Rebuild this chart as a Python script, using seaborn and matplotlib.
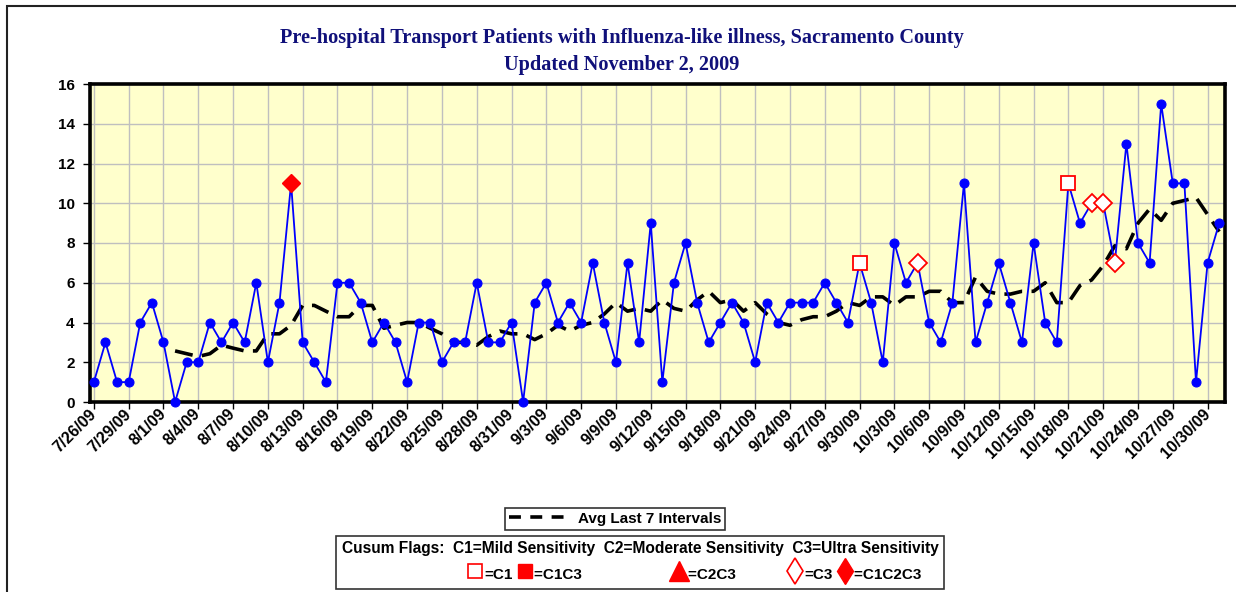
import numpy as np
import pandas as pd
import seaborn as sns
import matplotlib.pyplot as plt
from matplotlib.lines import Line2D
from matplotlib.patches import Rectangle

# Daily ILI transport counts, 7/26/09 .. 10/31/09
counts = [1, 3, 1, 1, 4, 5, 3, 0, 2, 2,
          4, 3, 4, 3, 6, 2, 5, 11, 3, 2,
          1, 6, 6, 5, 3, 4, 3, 1, 4, 4,
          2, 3, 3, 6, 3, 3, 4, 0, 5, 6,
          4, 5, 4, 7, 4, 2, 7, 3, 9, 1,
          6, 8, 5, 3, 4, 5, 4, 2, 5, 4,
          5, 5, 5, 6, 5, 4, 7, 5, 2, 8,
          6, 7, 4, 3, 5, 11, 3, 5, 7, 5,
          3, 8, 4, 3, 11, 9, 10, 10, 7, 13,
          8, 7, 15, 11, 11, 1, 7, 9]

# Avg last 7 intervals (dashed line)
avg7 = [np.nan] * 7 + [
    2.57, 2.43, 2.29, 2.43, 2.86, 2.71, 2.57, 2.57, 3.43, 3.43,
    3.86, 4.86, 4.86, 4.57, 4.29, 4.29, 4.86, 4.86, 3.71, 3.86,
    4.00, 4.00, 3.71, 3.43, 3.00, 3.00, 2.86, 3.29, 3.57, 3.43,
    3.43, 3.14, 3.43, 3.86, 3.57, 3.86, 4.00, 4.43, 5.00, 4.57,
    4.71, 4.57, 5.14, 4.71, 4.57, 5.14, 5.57, 5.00, 5.14, 4.57,
    5.00, 4.43, 4.00, 3.86, 4.14, 4.29, 4.29, 4.57, 5.00, 4.86,
    5.29, 5.29, 4.86, 5.29, 5.29, 5.57, 5.57, 5.00, 5.00, 6.29,
    5.57, 5.43, 5.43, 5.57, 5.57, 6.00, 5.00, 5.00, 5.86, 6.14,
    6.86, 7.86, 7.71, 9.00, 9.71, 9.14, 10.00, 10.14, 10.29, 9.43,
    8.57]

# Cusum flag days
c1_days = ['2009-09-30', '2009-10-18']
c3_days = ['2009-10-05', '2009-10-20', '2009-10-21', '2009-10-22']
c1c2c3_days = ['2009-08-12']

tick_labels = ['7/26/09', '7/29/09', '8/1/09', '8/4/09', '8/7/09', '8/10/09',
               '8/13/09', '8/16/09', '8/19/09', '8/22/09', '8/25/09', '8/28/09',
               '8/31/09', '9/3/09', '9/6/09', '9/9/09', '9/12/09', '9/15/09',
               '9/18/09', '9/21/09', '9/24/09', '9/27/09', '9/30/09', '10/3/09',
               '10/6/09', '10/9/09', '10/12/09', '10/15/09', '10/18/09',
               '10/21/09', '10/24/09', '10/27/09', '10/30/09']

dates = pd.date_range('2009-07-26', periods=len(counts), freq='D')
df = pd.DataFrame({'date': dates, 'count': counts, 'avg7': avg7})

plt.rcParams['font.family'] = ['Liberation Sans', 'DejaVu Sans']

fig = plt.figure(figsize=(12.36, 5.92), dpi=100)
ax = fig.add_axes([90/1236, 1 - 402/592, (1225 - 90)/1236, (402 - 84)/592])
ax.set_facecolor('#FFFFCC')

# moving average
sns.lineplot(data=df, x='date', y='avg7', ax=ax, color='black', lw=2.6, zorder=3)
ax.lines[-1].set_dashes([5, 2.6])

# daily counts
sns.lineplot(data=df, x='date', y='count', ax=ax, color='#0000FF', lw=1.3,
             marker='o', markersize=6.5, markeredgecolor='#0000FF',
             zorder=4, clip_on=False)

# flags
d1 = df[df['date'].isin(pd.to_datetime(c1_days))]
d3 = df[df['date'].isin(pd.to_datetime(c3_days))]
d123 = df[df['date'].isin(pd.to_datetime(c1c2c3_days))]
ax.plot(d1['date'], d1['count'], ls='', marker='s', ms=10.5, mfc='white',
        mec='#FF0000', mew=1.3, zorder=5)
ax.plot(d3['date'], d3['count'], ls='', marker='D', ms=9.5, mfc='white',
        mec='#FF0000', mew=1.3, zorder=5)
ax.plot(d123['date'], d123['count'], ls='', marker='D', ms=9.5, mfc='#FF0000',
        mec='#FF0000', zorder=5)

ax.set_ylim(0, 16)
ax.set_yticks(range(0, 17, 2))
ax.set_xlim(dates[0] - pd.Timedelta(hours=8), dates[0] + pd.Timedelta(days=97.5))
ax.set_xticks(dates[::3])
ax.set_xticklabels(tick_labels, rotation=45, ha='right', va='center',
                   rotation_mode='anchor', fontsize=11.5, fontweight='bold')
for lab in ax.get_yticklabels():
    lab.set_fontsize(11)
    lab.set_fontweight('bold')
ax.tick_params(axis='x', direction='out', length=5, width=1, pad=2)
ax.tick_params(axis='y', direction='out', length=5, width=1, pad=6)
ax.set_xlabel('')
ax.set_ylabel('')
ax.grid(True, color='#BFBFBF', lw=1)
ax.set_axisbelow(True)
for sp in ax.spines.values():
    sp.set_linewidth(2.6)
    sp.set_color('black')

fig.text(0.503, 1 - 38/592, 'Pre-hospital Transport Patients with Influenza-like illness, Sacramento County',
         ha='center', va='center', fontsize=14.6, fontweight='bold',
         family='Liberation Serif', color='#10107A')
fig.text(0.503, 1 - 65/592, 'Updated November 2, 2009',
         ha='center', va='center', fontsize=14.6, fontweight='bold',
         family='Liberation Serif', color='#10107A')

# outer chart frame
fig.add_artist(Rectangle((7/1236, -0.1), 1.2, 1.1 - 6/592, transform=fig.transFigure,
                         fill=False, ec='#222222', lw=1.5))

# legend 1
leg1 = fig.legend(handles=[Line2D([], [], color='black', lw=2.6, dashes=(3.3, 2.6))],
                  labels=['Avg Last 7 Intervals'], loc='upper center',
                  bbox_to_anchor=(615/1236, 1 - 508/592), frameon=True,
                  fancybox=False, edgecolor='black', handlelength=3.8,
                  borderpad=0.25, handletextpad=0.7, borderaxespad=0,
                  prop={'weight': 'bold', 'size': 11})
leg1.get_frame().set_linewidth(1.2)

# legend 2
h = [Line2D([], [], ls='', marker='s', ms=10.5, mfc='white', mec='#FF0000', mew=1.2),
     Line2D([], [], ls='', marker='s', ms=10.5, mfc='#FF0000', mec='#FF0000'),
     Line2D([], [], ls='', marker='^', ms=14, mfc='#FF0000', mec='#FF0000'),
     Line2D([], [], ls='', marker='d', ms=13, mfc='white', mec='#FF0000', mew=1.2),
     Line2D([], [], ls='', marker='d', ms=13, mfc='#FF0000', mec='#FF0000')]
labs = ['=C1', '=C1C3' + ' ' * 20, '=C2C3' + ' ' * 11, '=C3', '=C1C2C3' + ' ' * 4]
leg2 = fig.legend(handles=h, labels=labs, ncol=5, loc='upper center',
                  bbox_to_anchor=(640/1236, 1 - 536/592), frameon=True,
                  fancybox=False, edgecolor='black', handlelength=0.8,
                  handletextpad=0.2, columnspacing=0.4, borderpad=0.35,
                  handleheight=1.6, alignment='right', borderaxespad=0,
                  title='Cusum Flags:  C1=Mild Sensitivity  C2=Moderate Sensitivity  C3=Ultra Sensitivity',
                  title_fontproperties={'weight': 'bold', 'size': 11.2},
                  prop={'weight': 'bold', 'size': 11})
leg2.get_frame().set_linewidth(1.2)

fig.savefig('out.png', dpi=100)
